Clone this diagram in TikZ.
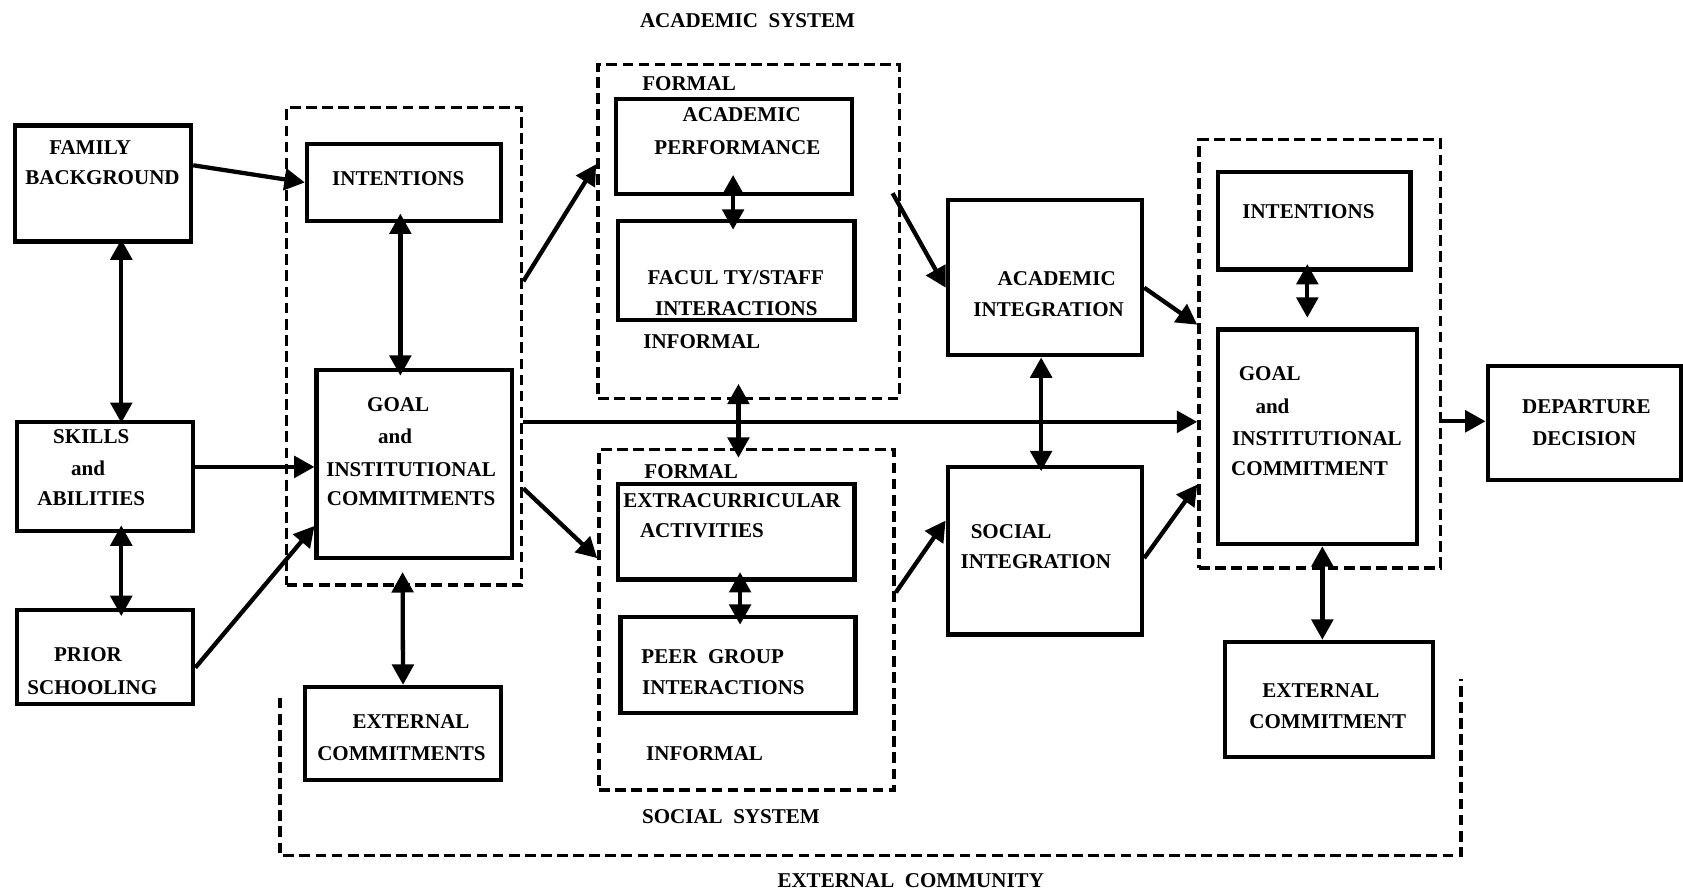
\documentclass[tikz,border=0pt]{standalone}
\usepackage{fontspec}
\setmainfont{Liberation Serif}
\usetikzlibrary{arrows.meta,fit}
\begin{document}
\begin{tikzpicture}[x=0.5pt,y=-0.5pt,
  box/.style={draw,line width=2pt,inner sep=0pt,fit={#1}},
  grp/.style={draw,line width=1.6pt,dash pattern=on 5pt off 2.5pt,inner sep=0pt,fit={#1}},
  grpline/.style={line width=1.6pt,dash pattern=on 5pt off 2.5pt},
  txt/.style={font=\bfseries\fontsize{9.8}{11}\selectfont,inner sep=0pt,text height=6.6pt,text depth=0pt},
  arr/.style={line width=2pt,-{Triangle[length=9.5pt,width=10pt]}},
  dbl/.style={line width=2pt,{Triangle[length=9.5pt,width=10pt]}-{Triangle[length=9.5pt,width=10pt]}},
]
\useasboundingbox (0,0) rectangle (1568,831);

% dashed groups
\node[grp={(267,100)(486,545)}] (grp1) {};
\node[grp={(557,60)(838,371)}] (acad) {};
\node[grp={(558,419)(833,736)}] (soc) {};
\node[grp={(1117,130)(1342,529)}] (grp2) {};
\draw[grpline] (261,650) -- (261,797) -- (1361,797) -- (1361,633);

% boxes
\node[box={(14,117)(178,225)}] (fam) {};
\node[box={(16,393)(180,495)}] (sk) {};
\node[box={(16,568)(180,656)}] (pr) {};
\node[box={(286,134)(467,206)}] (int1) {};
\node[box={(295,345)(477,520)}] (goal1) {};
\node[box={(284,640)(467,727)}] (ext1) {};
\node[box={(574,92)(794,181)}] (ap) {};
\node[box={(576,206)(796,298)}] (fac) {};
\node[box={(576,451)(796,540)}] (ex) {};
\node[box={(578,575)(797,664)}] (pg) {};
\node[box={(883,186)(1064,331)}] (ai) {};
\node[box={(883,435)(1064,591)}] (si) {};
\node[box={(1135,160)(1314,251)}] (int2) {};
\node[box={(1135,307)(1320,507)}] (goal2) {};
\node[box={(1141,598)(1335,705)}] (ext2) {};
\node[box={(1386,341)(1566,447)}] (dep) {};

% texts
\node[txt] (tAS) at (696.5,18.6) {ACADEMIC\ \ SYSTEM};
\node[txt,anchor=west] (tF1) at (598,77.6) {FORMAL};
\node[txt] (tAP1) at (691,107) {ACADEMIC};
\node[txt] (tAP2) at (687,137) {PERFORMANCE};
\node[txt] (tFS1) at (685.5,258) {FACUL TY/STAFF};
\node[txt] (tFS2) at (686,287) {INTERACTIONS};
\node[txt,anchor=west] (tI1) at (599,318) {INFORMAL};
\node[txt] (tFam1) at (84,137) {FAMILY};
\node[txt] (tFam2) at (95.5,165) {BACKGROUND};
\node[txt] (tSk1) at (85,407) {SKILLS};
\node[txt] (tSk2) at (82,436) {and};
\node[txt] (tSk3) at (85,464) {ABILITIES};
\node[txt] (tPr1) at (82,610) {PRIOR};
\node[txt] (tPr2) at (86,640) {SCHOOLING};
\node[txt] (tInt1) at (371,166) {INTENTIONS};
\node[txt] (tG1) at (371,377) {GOAL};
\node[txt] (tG2) at (368,407) {and};
\node[txt] (tG3) at (383,437) {INSTITUTIONAL};
\node[txt] (tG4) at (383,464) {COMMITMENTS};
\node[txt] (tE1) at (383,672) {EXTERNAL};
\node[txt] (tE2) at (374,702) {COMMITMENTS};
\node[txt,anchor=west] (tF2) at (600,439.5) {FORMAL};
\node[txt] (tEx1) at (682,466) {EXTRACURRICULAR};
\node[txt] (tEx2) at (654,494) {ACTIVITIES};
\node[txt] (tPg1) at (664,612) {PEER\ \ GROUP};
\node[txt] (tPg2) at (674,640) {INTERACTIONS};
\node[txt,anchor=west] (tI2) at (601.6,702) {INFORMAL};
\node[txt] (tSS) at (681,761) {SOCIAL\ \ SYSTEM};
\node[txt] (tEC) at (848.5,820) {EXTERNAL\ \ COMMUNITY};
\node[txt] (tAI1) at (984.5,259) {ACADEMIC};
\node[txt] (tAI2) at (977,288) {INTEGRATION};
\node[txt] (tSI1) at (942,495) {SOCIAL};
\node[txt] (tSI2) at (965,523) {INTEGRATION};
\node[txt] (tInt2) at (1219,197) {INTENTIONS};
\node[txt] (tGG1) at (1183,348) {GOAL};
\node[txt] (tGG2) at (1185.5,379) {and};
\node[txt] (tGG3) at (1227,408) {INSTITUTIONAL};
\node[txt] (tGG4) at (1220,436) {COMMITMENT};
\node[txt] (tEE1) at (1230.6,643) {EXTERNAL};
\node[txt] (tEE2) at (1237,672) {COMMITMENT};
\node[txt] (tD1) at (1478,379) {DEPARTURE};
\node[txt] (tD2) at (1476,408) {DECISION};

% connectors
\draw[arr] ([yshift=8.5pt]fam.east) -- (int1.west);
\draw[dbl,shorten <=-2pt,shorten >=-1.5pt] ([xshift=8.5pt]fam.south) -- ([xshift=7.5pt]sk.north);
\coordinate (skA) at ([yshift=4.5pt]sk.east);
\draw[arr] (skA) -- (skA -| goal1.west);
\draw[dbl,shorten <=-3.75pt,shorten >=-4pt] ([xshift=7.5pt]sk.south) -- ([xshift=7.5pt]pr.north);
\draw[arr] ([yshift=-5pt]pr.east) -- ([yshift=-28.75pt]goal1.west);
\draw[dbl,shorten <=-4.5pt,shorten >=-3.5pt] ([xshift=-1.75pt]int1.south) -- ([xshift=-6.5pt]goal1.north);
\draw[dbl,shorten <=5.5pt] ([xshift=-5.5pt]goal1.south) -- (ext1.north);
\draw[arr] ([yshift=30.25pt]grp1.east) -- ([yshift=31.25pt]acad.west);
\draw[arr] ([yshift=-66.25pt]grp1.east) -- ([yshift=28.75pt]soc.west);
\coordinate (gA) at ([yshift=-35.25pt]grp1.east);
\draw[arr] (gA) -- (gA -| grp2.west);
\draw[dbl,shorten <=-10pt,shorten >=-5pt] ([xshift=-0.5pt]ap.south) -- ([xshift=-1.5pt]fac.north);
\draw[dbl,shorten <=-4.5pt,shorten >=-4.5pt] ([xshift=1.75pt]ex.south) -- ([xshift=1pt]pg.north);
\draw[dbl,shorten <=-7.5pt,shorten >=-4.5pt] ([xshift=-4.75pt]acad.south) -- ([xshift=-3.75pt]soc.north);
\draw[arr] ([xshift=-4pt,yshift=17.75pt]acad.east) -- ([yshift=-4.75pt]ai.west);
\draw[arr] ([yshift=12.75pt]soc.east) -- ([yshift=14pt]si.west);
\draw[dbl,shorten >=-3pt] ([xshift=-1.75pt]ai.south) -- ([xshift=-1.75pt]si.north);
\draw[arr] ([yshift=-4.75pt]ai.east) -- ([yshift=13.5pt]grp2.west);
\draw[arr] ([yshift=-3.5pt]si.east) -- ([yshift=-61pt]grp2.west);
\draw[dbl,shorten <=-3.5pt,shorten >=4.5pt] ([xshift=-3.25pt]int2.south) -- ([xshift=-4.75pt]goal2.north);
\draw[dbl] ([xshift=2.25pt]goal2.south) -- ([xshift=-3pt]ext2.north);
\coordinate (gB) at ([yshift=-31.5pt]grp2.east);
\draw[arr] (gB) -- (gB -| dep.west);
\end{tikzpicture}
\end{document}
